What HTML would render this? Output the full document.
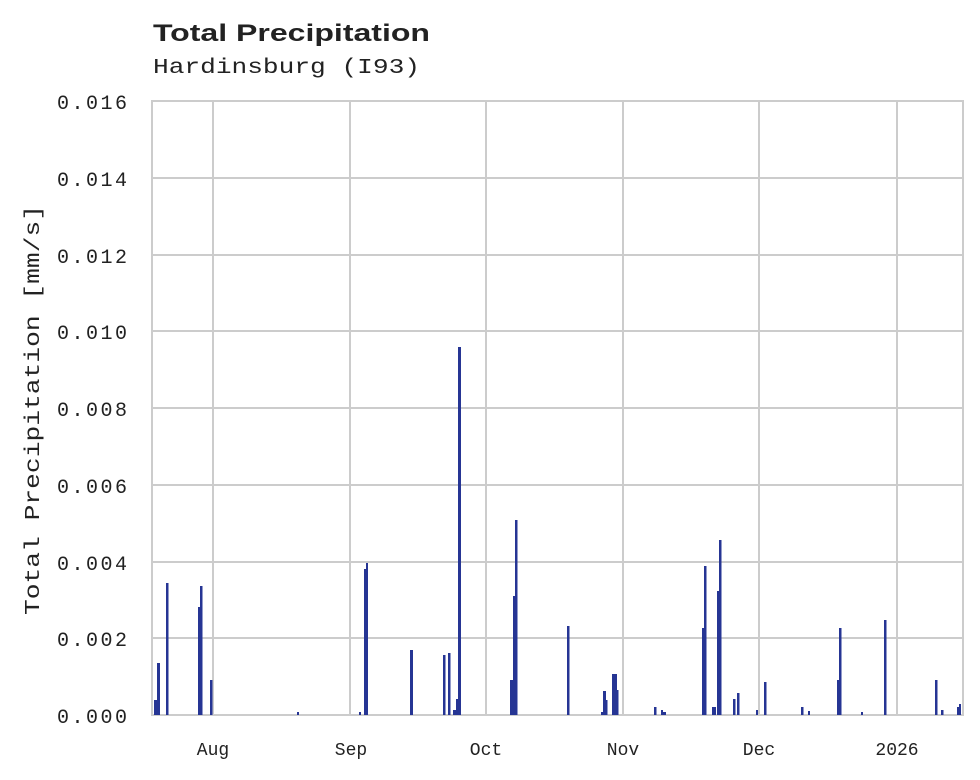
<!DOCTYPE html>
<html><head><meta charset="utf-8"><style>
html,body{margin:0;padding:0;background:#fff;}
svg{display:block;}
.m{font-family:"Liberation Mono",monospace;fill:#222;}
</style></head><body>
<svg width="980" height="780" xmlns="http://www.w3.org/2000/svg">
<rect width="980" height="780" fill="#fff"/>
<text x="153" y="41" font-family="Liberation Sans, sans-serif" font-weight="bold" font-size="24" fill="#222" textLength="277" lengthAdjust="spacingAndGlyphs">Total Precipitation</text>
<text class="m" x="153" y="73" font-size="21" textLength="267" lengthAdjust="spacingAndGlyphs">Hardinsburg (I93)</text>
<g stroke="#cccccc" stroke-width="2">
<line x1="152" y1="178" x2="963" y2="178"/><line x1="152" y1="255" x2="963" y2="255"/><line x1="152" y1="331" x2="963" y2="331"/><line x1="152" y1="408" x2="963" y2="408"/><line x1="152" y1="485" x2="963" y2="485"/><line x1="152" y1="562" x2="963" y2="562"/><line x1="152" y1="638" x2="963" y2="638"/>
<line x1="213" y1="101" x2="213" y2="715"/><line x1="350" y1="101" x2="350" y2="715"/><line x1="486" y1="101" x2="486" y2="715"/><line x1="623" y1="101" x2="623" y2="715"/><line x1="759" y1="101" x2="759" y2="715"/><line x1="897" y1="101" x2="897" y2="715"/>
<rect x="152" y="101" width="811" height="614" fill="none"/>
</g>
<g class="m" font-size="20" text-anchor="end">
<text x="127" y="109" textLength="70">0.016</text><text x="127" y="186" textLength="70">0.014</text><text x="127" y="263" textLength="70">0.012</text><text x="127" y="339" textLength="70">0.010</text><text x="127" y="416" textLength="70">0.008</text><text x="127" y="493" textLength="70">0.006</text><text x="127" y="570" textLength="70">0.004</text><text x="127" y="646" textLength="70">0.002</text><text x="127" y="723" textLength="70">0.000</text>
</g>
<g class="m" font-size="18" text-anchor="middle">
<text x="213" y="755">Aug</text><text x="351" y="755">Sep</text><text x="486" y="755">Oct</text><text x="623" y="755">Nov</text><text x="759" y="755">Dec</text><text x="897" y="755">2026</text>
</g>
<text class="m" font-size="21" transform="translate(39,410) rotate(-90)" text-anchor="middle" textLength="410" lengthAdjust="spacingAndGlyphs">Total Precipitation [mm/s]</text>
<g fill="#263594">
<rect x="154" y="700" width="3" height="15"/><rect x="157" y="663" width="3" height="52"/><rect x="166" y="583" width="2.5" height="132"/>
<rect x="198" y="607" width="2" height="108"/><rect x="200" y="586" width="2.5" height="129"/><rect x="210" y="680" width="2.5" height="35"/>
<rect x="297" y="712" width="2" height="3"/><rect x="359" y="712" width="2" height="3"/><rect x="364" y="569" width="2" height="146"/><rect x="366" y="563" width="2" height="152"/>
<rect x="410" y="650" width="3" height="65"/><rect x="443" y="655" width="2.5" height="60"/><rect x="448" y="653" width="2.5" height="62"/>
<rect x="453" y="710" width="3" height="5"/><rect x="456" y="699" width="2" height="16"/><rect x="458" y="347" width="3" height="368"/>
<rect x="510" y="680" width="3" height="35"/><rect x="513" y="596" width="2" height="119"/><rect x="515" y="520" width="2.5" height="195"/>
<rect x="567" y="626" width="2.5" height="89"/>
<rect x="601" y="712" width="2" height="3"/><rect x="603" y="691" width="3" height="24"/><rect x="606" y="700" width="1.5" height="15"/><rect x="612" y="674" width="5" height="41"/><rect x="617" y="690" width="1.5" height="25"/>
<rect x="654" y="707" width="2.5" height="8"/><rect x="661" y="710" width="2" height="5"/><rect x="663" y="712" width="3" height="3"/>
<rect x="702" y="628" width="2" height="87"/><rect x="704" y="566" width="2.5" height="149"/><rect x="712" y="707" width="4" height="8"/>
<rect x="717" y="591" width="2" height="124"/><rect x="719" y="540" width="2.5" height="175"/><rect x="733" y="699" width="2.5" height="16"/><rect x="737" y="693" width="2.5" height="22"/>
<rect x="756" y="710" width="2" height="5"/><rect x="764" y="682" width="2.5" height="33"/><rect x="801" y="707" width="2.5" height="8"/><rect x="808" y="711" width="2" height="4"/>
<rect x="837" y="680" width="2" height="35"/><rect x="839" y="628" width="2.5" height="87"/><rect x="861" y="712" width="2" height="3"/><rect x="884" y="620" width="2.5" height="95"/>
<rect x="935" y="680" width="2.5" height="35"/><rect x="941" y="710" width="2.5" height="5"/><rect x="957" y="707" width="2" height="8"/><rect x="959" y="704" width="2" height="11"/>
</g>
</svg>
</body></html>
